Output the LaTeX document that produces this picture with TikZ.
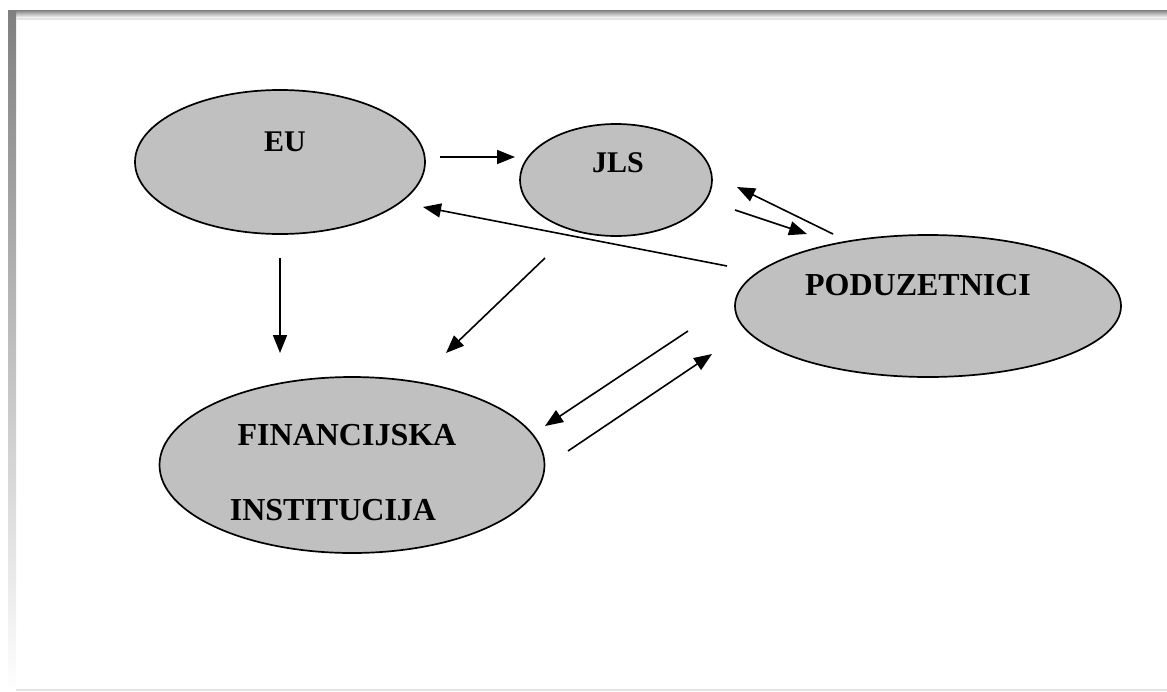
\documentclass[tikz,border=0pt]{standalone}
\usepackage{fontspec}
\setmainfont{Liberation Serif}
\usetikzlibrary{shapes.geometric,arrows.meta}
\definecolor{shade}{HTML}{C0C0C0}
\definecolor{faint}{HTML}{E4E4E4}
\tikzset{
  blob/.style={ellipse, draw=black, line width=1.7pt, fill=shade, inner sep=0pt},
  lbl/.style={font=\bfseries\fontsize{32}{36}\selectfont, inner sep=0pt, anchor=center},
  conn/.style={line width=1.6pt, -{Triangle[length=18pt,width=14pt]}}
}
\begin{document}
\begin{tikzpicture}[x=1pt,y=-1pt]
\useasboundingbox (0,0) rectangle (1167,691);
% frame
\fill[shade] (8,10) rectangle (1167,18);
\fill[shade] (8,10) rectangle (16,691);
\fill[faint] (16,18) rectangle (1167,19.5);
\fill[faint] (16,689) rectangle (1167,691);
% ellipses
\node[blob, minimum width=290pt, minimum height=144pt] (eu) at (280,162) {};
\node[blob, minimum width=192pt, minimum height=112pt] (jls) at (616,180) {};
\node[blob, minimum width=386pt, minimum height=142pt] (pod) at (928,306) {};
\node[blob, minimum width=385pt, minimum height=176pt] (fin) at (352,465) {};
% labels
\node[lbl, font=\bfseries\fontsize{30}{34}\selectfont] (teu) at (285,142) {EU};
\node[lbl, font=\bfseries\fontsize{30}{34}\selectfont] (tjls) at (618,163) {JLS};
\node[lbl] (tpod) at (918,285) {PODUZETNICI};
\node[lbl] (tfin1) at (347,435) {FINANCIJSKA};
\node[lbl] (tfin2) at (333,510) {INSTITUCIJA};
% connector end points
\coordinate (a1) at (440,157); \coordinate (b1) at (515,157);
\coordinate (a2) at (280,258); \coordinate (b2) at (280,353);
\coordinate (a3) at (545,258); \coordinate (b3) at (446,353);
\coordinate (a4) at (727,266); \coordinate (b4) at (423,207);
\coordinate (a5) at (833,234); \coordinate (b5) at (737,187);
\coordinate (a6) at (735,210); \coordinate (b6) at (807,234);
\coordinate (a7) at (688,331); \coordinate (b7) at (545,426);
\coordinate (a8) at (568,451); \coordinate (b8) at (712,354);
% connectors
\draw[conn] (a1) -- (b1);
\draw[conn] (a2) -- (b2);
\draw[conn] (a3) -- (b3);
\draw[conn] (a4) -- (b4);
\draw[conn] (a5) -- (b5);
\draw[conn] (a6) -- (b6);
\draw[conn] (a7) -- (b7);
\draw[conn] (a8) -- (b8);
\end{tikzpicture}
\end{document}
